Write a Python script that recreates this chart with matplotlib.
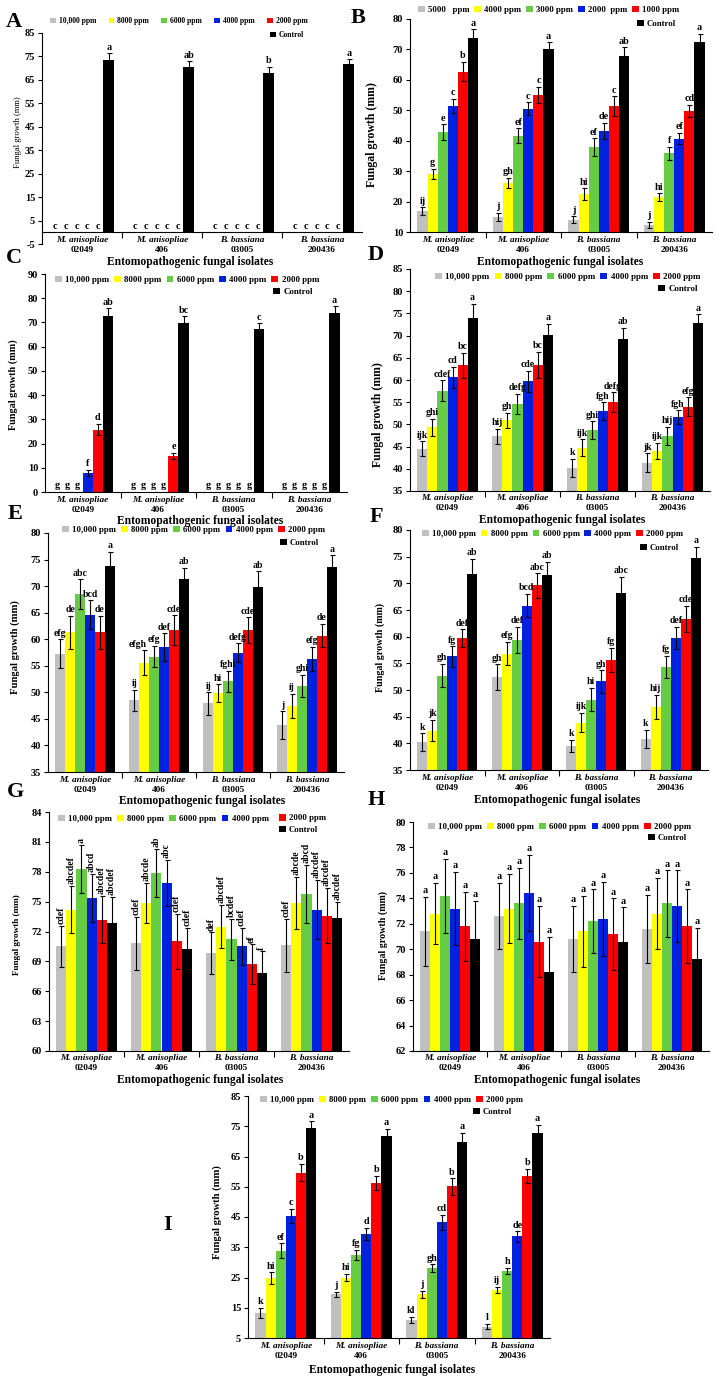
import numpy as np
import matplotlib
matplotlib.use("Agg")
import matplotlib.pyplot as plt
from matplotlib.patches import Patch

# ---------------- data ----------------
isolate_names = ["M. anisopliae", "M. anisopliae", "B. bassiana", "B. bassiana"]
isolate_codes = ["02049", "406", "03005", "200436"]
conc_labels = ["10,000 ppm", "8000 ppm", "6000 ppm", "4000 ppm", "2000 ppm", "Control"]
B_conc_labels = ["5000   ppm", "4000 ppm", "3000 ppm", "2000  ppm", "1000 ppm", "Control"]

# rows = isolates, columns = treatments (same order as the legend)
A_means = [[0, 0, 0, 0, 0, 73.3], [0, 0, 0, 0, 0, 70.3], [0, 0, 0, 0, 0, 68.1], [0, 0, 0, 0, 0, 71.6]]
A_errs = [[0, 0, 0, 0, 0, 3.0], [0, 0, 0, 0, 0, 2.6], [0, 0, 0, 0, 0, 2.6], [0, 0, 0, 0, 0, 2.1]]
A_letters = [["c", "c", "c", "c", "c", "a"], ["c", "c", "c", "c", "c", "ab"],
             ["c", "c", "c", "c", "c", "b"], ["c", "c", "c", "c", "c", "a"]]
A_yticks = [-5, 5, 15, 25, 35, 45, 55, 65, 75, 85]

B_means = [[16.8, 29.0, 42.8, 51.4, 62.7, 73.7], [15.0, 26.0, 41.7, 50.5, 55.1, 70.0],
           [14.0, 22.4, 37.9, 43.2, 51.4, 68.0], [12.3, 21.5, 35.8, 40.7, 49.8, 72.5]]
B_errs = [[1.3, 1.7, 2.6, 2.3, 3.2, 2.9], [1.4, 1.7, 2.4, 2.1, 2.6, 2.3],
          [1.1, 1.9, 2.9, 2.7, 3.2, 2.7], [1.0, 1.2, 2.1, 1.9, 2.0, 2.7]]
B_letters = [["ij", "g", "e", "c", "b", "a"], ["j", "gh", "ef", "c", "c", "a"],
             ["j", "hi", "ef", "de", "c", "ab"], ["j", "hi", "f", "ef", "cd", "a"]]
B_yticks = [10, 20, 30, 40, 50, 60, 70, 80]

C_means = [[0, 0, 0, 7.9, 25.8, 72.8], [0, 0, 0, 0, 14.8, 69.9],
           [0, 0, 0, 0, 0, 67.4], [0, 0, 0, 0, 0, 73.8]]
C_errs = [[0, 0, 0, 1.2, 2.4, 3.0], [0, 0, 0, 0, 1.3, 2.6],
          [0, 0, 0, 0, 0, 2.3], [0, 0, 0, 0, 0, 2.8]]
C_letters = [["g", "g", "g", "f", "d", "ab"], ["g", "g", "g", "g", "e", "bc"],
             ["g", "g", "g", "g", "g", "c"], ["g", "g", "g", "g", "g", "a"]]
C_yticks = [0, 10, 20, 30, 40, 50, 60, 70, 80, 90]

D_means = [[44.5, 49.4, 57.6, 60.6, 63.3, 74.0], [47.3, 50.9, 54.6, 59.7, 63.4, 70.2],
           [40.2, 44.7, 48.7, 53.0, 55.0, 69.2], [41.4, 44.0, 47.4, 51.6, 54.0, 72.9]]
D_errs = [[1.7, 1.9, 2.3, 2.4, 2.8, 3.1], [1.7, 1.7, 2.3, 2.3, 2.9, 2.4],
          [2.1, 1.9, 2.0, 2.0, 2.2, 2.5], [2.1, 1.9, 2.0, 1.6, 2.1, 1.9]]
D_letters = [["ijk", "ghi", "cdef", "cd", "bc", "a"], ["hij", "gh", "defg", "cde", "bc", "a"],
             ["k", "ijk", "ghi", "fgh", "defg", "ab"], ["jk", "ijk", "hij", "fgh", "efg", "a"]]
D_yticks = [35, 40, 45, 50, 55, 60, 65, 70, 75, 80, 85]

E_means = [[57.3, 61.3, 68.5, 64.6, 61.3, 73.8], [48.5, 55.6, 56.7, 58.5, 61.7, 71.3],
           [47.9, 49.8, 52.1, 57.5, 61.7, 69.8], [43.8, 47.4, 51.2, 56.3, 60.7, 73.6]]
E_errs = [[2.7, 3.1, 2.8, 2.7, 3.1, 2.6], [2.0, 2.3, 2.0, 2.6, 2.8, 2.2],
          [2.1, 1.7, 2.0, 1.7, 2.4, 3.0], [2.6, 2.3, 2.1, 2.3, 2.2, 2.2]]
E_letters = [["efg", "de", "abc", "bcd", "de", "a"], ["ij", "efgh", "efg", "def", "cde", "ab"],
             ["ij", "hi", "fghi", "defg", "cde", "ab"], ["j", "ij", "ghi", "efg", "de", "a"]]
E_yticks = [35, 40, 45, 50, 55, 60, 65, 70, 75, 80]

F_means = [[40.2, 42.4, 52.7, 56.3, 59.7, 71.8], [52.4, 56.8, 59.4, 65.8, 69.6, 71.6],
           [39.5, 43.9, 48.2, 51.6, 55.6, 68.2], [40.8, 46.8, 54.3, 59.7, 63.3, 74.7]]
F_errs = [[1.7, 2.0, 2.2, 1.9, 1.7, 2.8], [2.4, 2.2, 2.5, 2.2, 2.3, 2.4],
          [1.2, 1.8, 2.2, 2.1, 2.3, 3.0], [1.7, 2.3, 2.1, 2.1, 2.5, 2.1]]
F_letters = [["k", "jk", "gh", "fg", "def", "ab"], ["gh", "efg", "def", "bcd", "abc", "ab"],
             ["k", "ijk", "hi", "gh", "fg", "abc"], ["k", "hij", "fg", "def", "cde", "a"]]
F_yticks = [35, 40, 45, 50, 55, 60, 65, 70, 75, 80]

G_means = [[70.5, 74.2, 78.3, 75.4, 73.2, 72.9], [70.8, 74.9, 77.9, 76.9, 71.0, 70.2],
           [69.8, 72.5, 71.2, 70.5, 68.7, 67.8], [70.6, 74.9, 75.8, 74.2, 73.6, 73.4]]
G_errs = [[2.1, 2.4, 2.4, 2.4, 2.4, 2.6], [2.7, 2.0, 2.4, 2.3, 2.8, 2.2],
          [2.1, 2.2, 2.1, 1.9, 2.0, 2.2], [2.7, 2.6, 2.9, 3.0, 2.8, 1.6]]
G_letters = [["cdef", "abcdef", "a", "abcd", "abcdef", "abcdef"],
             ["cdef", "abcde", "ab", "abc", "cdef", "cdef"],
             ["def", "abcdef", "bcdef", "cdef", "ef", "f"],
             ["cdef", "abcde", "abcd", "abcdef", "abcdef", "abcdef"]]
G_yticks = [60, 63, 66, 69, 72, 75, 78, 81, 84]

H_means = [[71.4, 72.8, 74.2, 73.2, 71.8, 70.8], [72.6, 73.2, 73.6, 74.4, 70.6, 68.2],
           [70.8, 71.4, 72.2, 72.4, 71.2, 70.6], [71.6, 72.8, 73.6, 73.4, 71.8, 69.2]]
H_errs = [[2.7, 2.4, 2.9, 2.9, 2.7, 3.0], [2.6, 2.7, 2.8, 3.0, 2.8, 2.8],
          [2.6, 2.8, 2.5, 2.9, 2.8, 2.7], [2.7, 2.8, 2.6, 2.8, 2.9, 2.5]]
H_letters = [["a"] * 6, ["a"] * 6, ["a"] * 6, ["a"] * 6]
H_yticks = [62, 64, 66, 68, 70, 72, 74, 76, 78, 80]

I_means = [[13.3, 24.8, 33.8, 45.3, 59.7, 74.3], [19.4, 25.0, 32.5, 39.5, 56.2, 71.9],
           [11.1, 19.4, 28.0, 43.2, 55.1, 69.9], [8.8, 21.0, 27.3, 38.6, 58.6, 72.9]]
I_errs = [[1.6, 1.9, 2.5, 2.4, 2.9, 2.3], [0.9, 1.3, 1.7, 2.0, 2.3, 2.3],
          [1.0, 1.1, 1.3, 2.5, 2.7, 3.0], [0.9, 1.0, 1.0, 1.7, 2.3, 2.5]]
I_letters = [["k", "hi", "ef", "c", "b", "a"], ["j", "hi", "fg", "d", "b", "a"],
             ["kl", "j", "gh", "cd", "b", "a"], ["l", "ij", "h", "de", "b", "a"]]
I_yticks = [5, 15, 25, 35, 45, 55, 65, 75, 85]

ylabel_text = "Fungal growth (mm)"
xlabel_text = "Entomopathogenic fungal isolates"

# ---------------- style / layout ----------------
W, H = 721, 1382
plt.rcParams['font.family'] = ['Liberation Serif', 'DejaVu Serif']
plt.rcParams['font.weight'] = 'bold'
plt.rcParams['axes.linewidth'] = 0.8

colors = ['#c0c0c0', '#ffff00', '#66cc44', '#0022e0', '#ff0000', '#000000']

fig = plt.figure(figsize=(W / 100, H / 100), dpi=100)


def fx(px):
    return px / W


def fy(py):
    return 1 - py / H


layout = {
    'A': dict(L=42, R=362, top=33, bot=244, base=0, leg=(50, 21, 270, 35, 5.5, 1.6),
              ylab=(18, 132, 6.2, 'normal'), xlab=(190, 262), tag=(14, 22), lfs=7.3),
    'B': dict(L=410, R=712, top=19, bot=232, base=None, leg=(418, 10, 637, 24, 6.3, 0.55),
              ylab=(372, 135, 8.5, 'bold'), xlab=(560, 262), tag=(358, 18), lfs=7.3),
    'C': dict(L=45, R=347, top=274, bot=492, base=None, leg=(55, 280, 273, 292, 6.4, 0.55),
              ylab=(13, 385, 7.3, 'bold'), xlab=(200, 521), tag=(14, 258), lfs=7.3),
    'D': dict(L=410, R=710, top=269, bot=491, base=None, leg=(435, 277, 658, 289, 6.4, 0.6),
              ylab=(378, 415, 8.5, 'bold'), xlab=(562, 520), tag=(376, 255), lfs=7.0),
    'E': dict(L=48, R=344, top=533, bot=772, base=None, leg=(62, 530, 280, 543, 6.3, 0.6),
              ylab=(15, 647, 7.7, 'bold'), xlab=(202, 801), tag=(15, 514), lfs=7.0),
    'F': dict(L=410, R=708, top=530, bot=770, base=None, leg=(422, 534, 640, 548, 6.3, 0.55),
              ylab=(380, 647, 7.2, 'bold'), xlab=(557, 800), tag=(376, 517), lfs=7.0),
    'G': dict(L=49, R=349, top=812, bot=1051, base=None, leg=(58, 819, 279, 824, 6.3, 0.6),
              ylab=(17, 935, 6.6, 'bold'), xlab=(200, 1080), tag=(15, 792), lfs=7.0),
    'H': dict(L=413, R=709, top=822, bot=1051, base=None, leg=(428, 827, 648, 838, 6.3, 0.6),
              ylab=(383, 935, 7.2, 'bold'), xlab=(557, 1080), tag=(376, 800), lfs=7.3),
    'I': dict(L=248, R=550, top=1096, bot=1338, base=None, leg=(260, 1100, 473, 1112, 6.3, 0.6),
              ylab=(217, 1212, 7.7, 'bold'), xlab=(392, 1370), tag=(168, 1225), lfs=7.3),
}

# horizontal nudges (points) of individual significance letters, as in the original figure
letter_nudge = {('E', 1, 1): -4.5}

panels = [
    ('A', A_means, A_errs, A_letters, conc_labels, A_yticks),
    ('B', B_means, B_errs, B_letters, B_conc_labels, B_yticks),
    ('C', C_means, C_errs, C_letters, conc_labels, C_yticks),
    ('D', D_means, D_errs, D_letters, conc_labels, D_yticks),
    ('E', E_means, E_errs, E_letters, conc_labels, E_yticks),
    ('F', F_means, F_errs, F_letters, conc_labels, F_yticks),
    ('G', G_means, G_errs, G_letters, conc_labels, G_yticks),
    ('H', H_means, H_errs, H_letters, conc_labels, H_yticks),
    ('I', I_means, I_errs, I_letters, conc_labels, I_yticks),
]

bw = 0.134
groups = np.arange(len(isolate_codes))

for tag, means, errs, letters, labels, yticks in panels:
    lay = layout[tag]
    ax = fig.add_axes([fx(lay['L']), fy(lay['bot']), fx(lay['R'] - lay['L']),
                       (lay['bot'] - lay['top']) / H])
    m = np.array(means, dtype=float)
    e = np.array(errs, dtype=float)
    ax.set_xlim(-0.5, 3.5)
    ax.set_ylim(yticks[0], yticks[-1])
    base = yticks[0] if lay['base'] is None else lay['base']
    for k in range(m.shape[1]):
        xs = groups + (k - 2.5) * bw
        ax.bar(xs, m[:, k] - base, bw, bottom=base, color=colors[k], edgecolor='none', zorder=2)
        mask = e[:, k] > 0
        if mask.any():
            ax.errorbar(xs[mask], m[mask, k], yerr=e[mask, k], fmt='none', ecolor='black',
                        elinewidth=0.8, capsize=1.8, capthick=0.8, zorder=3)
        for g in groups:
            top = max(m[g, k], base) + e[g, k]
            rot = 90 if tag == 'G' else 0
            dx = letter_nudge.get((tag, int(g), k), 0)
            ax.annotate(letters[g][k], xy=(xs[g], top), xytext=(dx, 1.2),
                        textcoords='offset points', ha='center', va='bottom',
                        fontsize=lay['lfs'], fontweight='bold',
                        rotation=rot, zorder=4)
    # axes styling
    ax.spines['top'].set_visible(False)
    ax.spines['right'].set_visible(False)
    if lay['base'] is not None:
        ax.spines['bottom'].set_position(('data', lay['base']))
    ax.set_yticks(yticks)
    ax.set_yticklabels([str(t) for t in yticks])
    ax.tick_params(axis='y', direction='out', length=3, width=0.8, labelsize=7.5, pad=2)
    ax.set_xticks([0.5, 1.5, 2.5])
    ax.set_xticklabels([])
    ax.tick_params(axis='x', direction='out', length=4, width=0.8)
    for lab in ax.get_yticklabels():
        lab.set_fontweight('bold')
    # category labels
    for g in groups:
        ax.annotate(isolate_names[g], xy=(g, base), xytext=(0, -5.4), textcoords='offset points',
                    ha='center', va='center', fontsize=6.7, fontstyle='italic', fontweight='bold')
        ax.annotate(isolate_codes[g], xy=(g, base), xytext=(0, -12.6), textcoords='offset points',
                    ha='center', va='center', fontsize=6.7, fontweight='bold')
    # axis labels
    yx, yy, yfs, yw = lay['ylab']
    fig.text(fx(yx), fy(yy), ylabel_text, rotation=90, ha='center', va='center',
             fontsize=yfs, fontweight=yw)
    xx, xy_ = lay['xlab']
    fig.text(fx(xx), fy(xy_), xlabel_text, ha='center', va='center', fontsize=8.3, fontweight='bold')
    # panel tag
    tx, ty = lay['tag']
    fig.text(fx(tx), fy(ty), tag, ha='center', va='center', fontsize=16, fontweight='bold')
    # legend
    lx, ly, cx, cy, lfs, cs = lay['leg']
    handles = [Patch(facecolor=c, edgecolor='none') for c in colors]
    prop = {'family': 'Liberation Serif', 'weight': 'bold', 'size': lfs}
    common = dict(loc='center left', frameon=False, handlelength=0.75, handleheight=0.75,
                  handletextpad=0.4, borderpad=0, borderaxespad=0, prop=prop,
                  bbox_transform=fig.transFigure)
    if tag == 'G':
        fig.legend(handles[:4], labels[:4], ncol=4, columnspacing=cs,
                   bbox_to_anchor=(fx(lx), fy(ly)), **common)
        fig.legend(handles[4:], labels[4:], ncol=1, labelspacing=0.35,
                   bbox_to_anchor=(fx(cx), fy(cy)), **common)
    else:
        fig.legend(handles[:5], labels[:5], ncol=5, columnspacing=cs,
                   bbox_to_anchor=(fx(lx), fy(ly)), **common)
        fig.legend(handles[5:], labels[5:], ncol=1,
                   bbox_to_anchor=(fx(cx), fy(cy)), **common)

fig.savefig("out.png", dpi=100)
